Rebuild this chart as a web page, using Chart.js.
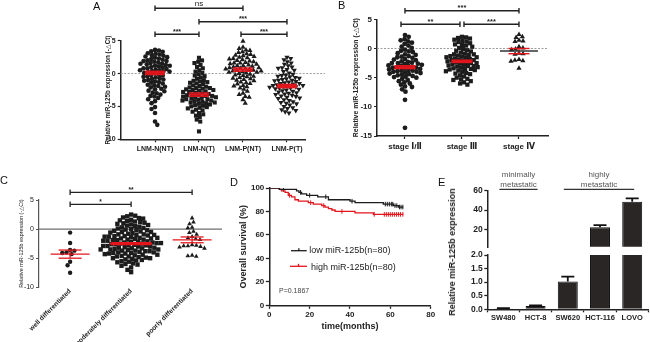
<!DOCTYPE html>
<html><head><meta charset="utf-8">
<script src="https://cdn.jsdelivr.net/npm/chart.js@4.4.1/dist/chart.umd.min.js"></script>
<style>
html,body{margin:0;padding:0;background:#fff;}
#wrap{position:relative;width:650px;height:342px;overflow:hidden;font-family:'Liberation Sans',Arial,sans-serif;color:#111;}
#wrap canvas{position:absolute;}
.pl{position:absolute;font-size:11px;line-height:11px;color:#111;}
.yt{position:absolute;transform:translate(-50%,-50%) rotate(-90deg);white-space:nowrap;font-weight:bold;font-size:9px;color:#222;}
</style></head><body>
<div id="wrap">
<canvas id="cA" width="240" height="165" style="left:88px;top:0px"></canvas>
<canvas id="cB" width="225" height="160" style="left:335px;top:0px"></canvas>
<canvas id="cC" width="232" height="172" style="left:0px;top:170px"></canvas>
<canvas id="cD" width="208" height="166" style="left:232px;top:176px"></canvas>
<canvas id="cEl" width="210" height="94" style="left:440px;top:248px"></canvas>
<canvas id="cEu" width="210" height="90" style="left:440px;top:168px"></canvas>
<div class="pl" style="left:93px;top:1px">A</div>
<div class="pl" style="left:338px;top:0px">B</div>
<div class="pl" style="left:0px;top:175px">C</div>
<div class="pl" style="left:230px;top:177px">D</div>
<div class="pl" style="left:438px;top:177px">E</div>
<div class="yt" style="left:452px;top:252px">Relative miR-125b expression</div>
</div>
<script>
// ---------------- DATA ----------------
// Panel A
const catsA = ['LNM-N(NT)', 'LNM-N(T)', 'LNM-P(NT)', 'LNM-P(T)'];
const lnmN_NT = [3.6,3.5,3.4,3.3,3.1,3.0,2.9,2.8,2.6,2.5,2.4,2.2,2.1,2.0,1.9,1.8,1.7,1.6,1.5,1.4,1.3,1.2,1.1,1.0,1.9,1.5,1.2,2.3,2.7,0.9,0.8,0.7,0.6,0.5,0.4,0.3,0.2,0.1,0.0,0.8,0.5,0.3,-0.1,-0.2,-0.3,-0.5,-0.6,-0.7,-0.8,-0.9,-1.0,-0.4,-1.1,-1.3,-1.4,-1.5,-1.7,-1.8,-1.9,-2.0,-1.2,-2.1,-2.3,-2.4,-2.6,-2.7,-2.9,-3.0,-3.2,-3.4,-3.5,-3.7,-3.9,-4.2,-4.5,-5.1,-5.4,-6.0,-7.3,-7.8];
const lnmN_T = [2.4,2.0,1.8,1.6,1.3,1.0,0.8,0.5,0.3,0.1,-0.1,-0.3,-0.4,-0.6,-0.8,-1.0,-1.1,-1.2,-1.3,-1.4,-1.5,-1.6,-1.8,-1.9,-2.0,-2.1,-2.2,-2.2,-2.3,-2.4,-2.5,-2.5,-2.6,-2.7,-2.8,-2.8,-2.9,-3.0,-3.1,-3.2,-3.3,-3.3,-3.4,-3.4,-3.5,-3.6,-3.6,-3.7,-3.8,-3.9,-3.9,-4.0,-4.1,-4.1,-4.2,-4.3,-4.4,-4.4,-4.5,-4.6,-4.7,-4.8,-4.9,-5.0,-5.1,-5.2,-5.3,-5.5,-5.6,-5.8,-6.0,-6.2,-6.4,-6.6,-7.0,-7.3,-8.8];
const lnmP_NT = [4.9,4.0,3.8,3.6,3.5,3.3,3.2,3.0,2.9,2.8,2.7,2.6,2.5,2.4,2.3,2.2,2.1,2.0,1.9,1.8,1.7,1.6,1.6,1.5,1.4,1.3,1.2,1.2,1.1,1.0,0.9,0.9,0.8,0.7,0.7,0.6,0.5,0.5,0.4,0.4,0.3,0.2,0.2,0.1,0.0,-0.1,-0.2,-0.3,-0.4,-0.5,-0.6,-0.7,-0.8,-0.9,-1.0,-1.1,-1.3,-1.4,-1.5,-1.6,-1.8,-1.9,-2.0,-2.2,-2.4,-2.7,-3.0,-3.2,-3.5,-3.6,-4.0,-4.5];
const lnmP_T = [2.5,2.3,2.1,1.8,1.6,1.4,1.2,1.0,0.9,0.8,0.6,0.5,0.3,0.1,-0.1,-0.2,-0.3,-0.4,-0.5,-0.6,-0.7,-0.8,-0.9,-1.0,-1.0,-1.1,-1.2,-1.3,-1.4,-1.5,-1.5,-1.6,-1.7,-1.8,-1.8,-1.9,-2.0,-2.0,-2.1,-2.2,-2.2,-2.3,-2.4,-2.5,-2.6,-2.7,-2.8,-2.9,-3.0,-3.1,-3.2,-3.3,-3.4,-3.5,-3.6,-3.7,-3.8,-4.0,-4.1,-4.3,-4.4,-4.5,-4.6,-4.8,-5.0,-5.2,-5.3,-5.5,-5.6,-5.8,-6.0];
const meansA = [0.1, -3.2, 0.6, -1.9];
const semsA = [0.25, 0.25, 0.25, 0.25];
const bracketsA = [[1, 3, 'ns'], [2, 4, '***'], [1, 2, '***'], [3, 4, '***']];

// Panel B
const catsB = ['stage \u2160/\u2161', 'stage \u2162', 'stage \u2163'];
const stageI_II = [2.3,2.0,1.6,1.4,1.2,1.0,0.8,0.5,0.3,0.1,-0.2,-0.4,-0.5,-0.6,-0.8,-1.0,-1.1,-1.3,-1.4,-1.5,-1.6,-1.8,-1.9,-2.0,-2.2,-2.3,-2.4,-2.5,-2.5,-2.6,-2.7,-2.8,-2.9,-3.0,-3.0,-3.1,-3.2,-3.3,-3.3,-3.4,-3.5,-3.6,-3.7,-3.8,-3.8,-3.9,-4.0,-4.0,-4.1,-4.2,-4.3,-4.4,-4.5,-4.6,-4.7,-4.8,-4.9,-5.0,-5.2,-5.4,-5.6,-5.8,-6.0,-6.2,-6.5,-6.6,-7.0,-7.4,-8.8,-13.6];
const stageIII = [2.0,1.9,1.8,1.7,1.5,1.3,1.2,1.1,0.9,0.7,0.6,0.5,0.3,0.1,-0.1,-0.3,-0.4,-0.5,-0.7,-0.9,-1.0,-1.0,-1.1,-1.2,-1.3,-1.4,-1.5,-1.5,-1.6,-1.7,-1.8,-1.9,-2.0,-2.0,-2.1,-2.2,-2.3,-2.4,-2.5,-2.5,-2.6,-2.7,-2.8,-2.9,-3.0,-3.0,-3.1,-3.2,-3.3,-3.4,-3.5,-3.5,-3.6,-3.7,-3.8,-3.9,-4.0,-4.2,-4.3,-4.4,-4.6,-4.8,-5.0,-5.2,-5.3,-5.4,-5.6,-5.8,-6.0,-6.2];
const stageIV = [2.4,2.0,1.9,1.4,1.3,1.2,0.3,0.1,-0.1,-0.2,-0.8,-0.9,-1.0,-1.9,-2.0,-2.1,-2.2,-3.4];
const meansB = [-3.2, -2.2, -0.45];
const semsB = [0.25, 0.2, 0.45];
const bracketsB = [[1, 3, '***'], [1, 2, '**'], [2, 3, '***']];

// Panel C
const catsC = ['well differentiated', 'moderately differentiated', 'poorly differentiated'];
const wellDiff = [-0.6,-2.4,-3.6,-3.7,-4.0,-4.3,-4.1,-5.6,-6.2,-7.5];
const modDiff = [2.5,2.3,2.2,2.0,1.9,1.8,1.6,1.5,1.3,1.2,1.0,0.9,0.8,0.6,0.5,0.3,0.2,0.1,-0.1,-0.2,-0.3,-0.5,-0.6,-0.7,-0.8,-0.9,-1.0,-1.1,-1.2,-1.3,-1.4,-1.5,-1.6,-1.7,-1.8,-1.9,-2.0,-2.1,-2.2,-2.3,-2.4,-2.5,-2.6,-2.7,-2.8,-2.9,-3.0,-3.1,-3.2,-3.3,-3.4,-3.5,-3.6,-3.7,-3.8,-3.9,-4.0,-4.1,-4.2,-4.3,-4.4,-4.5,-4.6,-4.7,-4.8,-4.9,-5.0,-5.1,-5.2,-5.4,-5.5,-5.7,-5.9,-6.1,-6.3,-6.6,-7.0,-7.4,1.4,0.7,0.0,-0.4,-0.9,-1.2,-1.6,-1.9,-2.2,-2.4,-2.6,-2.9,-3.2,-3.5,-3.8,-4.1,-4.4,-4.7,-5.0,-5.3,-1.0,-1.5,-2.0,-2.5,-3.0,-3.5,-4.0,-0.5,0.4,1.1,-2.3,-2.8,-3.3,-3.7,-4.2,-1.3,-1.8,-0.2,-5.6,-6.0];
const poorDiff = [1.9,1.2,0.9,0.3,0.2,-0.4,-0.6,-0.9,-1.3,-1.5,-1.7,-1.8,-2.7,-2.8,-2.9,-2.9,-3.0,-3.1,-3.3,-4.5,-4.6,-4.7];
const meansC = [-4.3, -2.5, -1.85];
const semsC = [0.7, 0.15, 0.5];
const bracketsC = [[1, 3, '**'], [1, 2, '*']];

// Panel D (Kaplan-Meier)
const lowTime = [0,5,13.5,14.7,16,18.5,24,29.3,40,42.5,56.5,61.5,64,66.4];
const lowSurv = [100,98.75,97.5,96.25,95,93.75,92.5,90,88.75,87.5,86.25,85,83.75,83.75];
const highTime = [0,5,6,7.8,9.4,11,12.7,14.4,19.3,21.8,26,27.6,29.3,31,32.6,42.5,51.6,66.4];
const highSurv = [100,98.75,97.5,96.25,93.75,92.5,90,88.75,87.5,86.25,85,83.75,82.5,81.25,80,78.75,77.5,77.5];
const lowCensor = [7,15.5,20,28,41,57.5,58.5,59.5,60.5,61.2,62.3,63.2,64.5,65.3,66.2];
const highCensor = [10,20.5,27,36,52,57,58,59,60,61,62,63,64,65,66.2];
const kmLabels = ['low miR-125b(n=80)', 'high miR-125b(n=80)'];
const pValueText = 'P=0.1867';

// Panel E
const cellLines = ['SW480', 'HCT-8', 'SW620', 'HCT-116', 'LOVO'];
const expr = [0.03, 0.12, 1.02, 22, 48.6];
const exprErr = [0.01, 0.02, 0.18, 2.3, 3.4];
const upperTicksE = [20, 40, 60];
const groupsE = [{from: 0, to: 1, text: ['minimally', 'metastatic']}, {from: 2, to: 4, text: ['highly', 'metastatic']}];

// ---------------- RENDERING ----------------
const FF = "'Liberation Sans', Arial, 'DejaVu Sans', 'Noto Sans CJK SC', sans-serif";
Chart.defaults.font.family = FF;
Chart.defaults.color = '#222';
Chart.defaults.animation = false;
Chart.defaults.plugins.legend.display = false;
Chart.defaults.plugins.tooltip.enabled = false;
const RED = '#e3151c';
const INK = '#1c1c1c';

function line(ctx, x1, y1, x2, y2) { ctx.beginPath(); ctx.moveTo(x1, y1); ctx.lineTo(x2, y2); ctx.stroke(); }

function applySwarm(chart, groups, d) {
  const xs = chart.scales.x, ys = chart.scales.y;
  groups.forEach((vals, gi) => {
    const cx = xs.getPixelForValue(gi + 1);
    const placed = [];
    const order = vals.map((v, i) => i).sort((a, b) => vals[b] - vals[a]);
    const out = new Array(vals.length);
    let flip = 1;
    order.forEach(i => {
      const py = ys.getPixelForValue(vals[i]);
      const cands = [0];
      placed.forEach(p => {
        const dy = Math.abs(p.y - py);
        if (dy < d) { const dx = Math.sqrt(d * d - dy * dy); cands.push(p.x + dx, p.x - dx); }
      });
      cands.sort((a, b) => (Math.abs(a) - Math.abs(b)) || (flip * (a - b)));
      flip = -flip;
      let best = 0;
      for (const c of cands) {
        if (placed.every(p => (p.x - c) ** 2 + (p.y - py) ** 2 >= d * d - 1e-6)) { best = c; break; }
      }
      placed.push({x: best, y: py});
      out[i] = {x: xs.getValueForPixel(cx + best), y: vals[i]};
    });
    chart.data.datasets[gi].data = out;
  });
  chart.update('none');
}

function dotPanel(id, P) {
  const cv = document.getElementById(id);
  const W = cv.width, H = cv.height;
  const datasets = P.groups.map((vals, gi) => ({
    data: vals.map(v => ({x: gi + 1, y: v})),
    pointStyle: P.markers[gi].style,
    rotation: P.markers[gi].rot || 0,
    pointRadius: P.markers[gi].r,
    pointBackgroundColor: INK,
    pointBorderColor: INK,
    pointBorderWidth: 0,
    clip: false
  }));
  const deco = {
    id: 'deco',
    beforeDatasetsDraw(chart) {
      const {ctx, chartArea: ca, scales: {y}} = chart;
      const y0 = y.getPixelForValue(0);
      ctx.save();
      ctx.strokeStyle = P.zero.color; ctx.lineWidth = P.zero.width; ctx.setLineDash(P.zero.dash);
      line(ctx, ca.left, y0, ca.right + P.zero.extend, y0);
      ctx.restore();
    },
    afterDatasetsDraw(chart) {
      const {ctx, scales: {x, y}} = chart;
      ctx.save();
      P.means.forEach((m, i) => {
        const st = P.meanStyle[i];
        const cx = x.getPixelForValue(i + 1);
        const ym = y.getPixelForValue(m), yh = y.getPixelForValue(m + P.sems[i]), yl = y.getPixelForValue(m - P.sems[i]);
        ctx.strokeStyle = RED; ctx.lineWidth = st.sw;
        line(ctx, cx - st.sh, yh, cx + st.sh, yh);
        line(ctx, cx - st.sh, yl, cx + st.sh, yl);
        if (st.vert) line(ctx, cx, yh, cx, yl);
        ctx.strokeStyle = st.mc || RED; ctx.lineWidth = st.mw;
        line(ctx, cx - st.mh, ym, cx + st.mh, ym);
      });
      P.brackets.forEach((b, k) => {
        const adj = P.bracketAdj ? P.bracketAdj[k] : [0, 0];
        const xa = x.getPixelForValue(b[0]) + adj[0], xb = x.getPixelForValue(b[1]) + adj[1];
        const by = P.bracketY[k];
        ctx.strokeStyle = '#222'; ctx.lineWidth = P.bw;
        line(ctx, xa, by, xb, by);
        line(ctx, xa, by - P.cap, xa, by + P.cap);
        line(ctx, xb, by - P.cap, xb, by + P.cap);
        ctx.fillStyle = '#222';
        ctx.textAlign = 'center'; ctx.textBaseline = 'alphabetic';
        ctx.font = (b[2] === 'ns' ? P.nsFont : P.starFont);
        ctx.fillText(b[2], (xa + xb) / 2, by - (b[2] === 'ns' ? 2.5 : 0.5));
      });
      ctx.restore();
    }
  };
  const chart = new Chart(cv, {
    type: 'scatter',
    data: {datasets},
    options: {
      responsive: false, animation: false,
      layout: {padding: {top: P.area.top, right: W - P.area.right, left: 0, bottom: 0}},
      scales: {
        x: {
          type: 'linear', min: P.xMin, max: P.xMax,
          afterBuildTicks: s => { s.ticks = P.cats.map((c, i) => ({value: i + 1})); },
          afterFit: s => { s.height = H - P.area.bottom; },
          ticks: {autoSkip: false, callback: v => P.cats[Math.round(v) - 1], font: P.xFont, color: '#222',
                  padding: P.xPad, minRotation: P.xRot, maxRotation: P.xRot},
          grid: {display: P.xTicks, drawOnChartArea: false, drawTicks: P.xTicks, tickLength: 3, tickColor: '#222', tickWidth: 1.2},
          border: {display: P.xBorder, color: '#222', width: 1.5}
        },
        y: {
          type: 'linear', min: P.yMin, max: P.yMax,
          ticks: {stepSize: 5, font: P.yFont, color: '#222', padding: 2},
          afterFit: s => { s.width = P.area.left; },
          grid: {display: true, drawOnChartArea: false, drawTicks: true, tickLength: 3, tickColor: P.axisColor, tickWidth: 1.2},
          border: {display: true, color: P.axisColor, width: P.axisWidth},
          title: {display: true, text: P.yTitle, font: P.yTitleFont, color: '#222', padding: {top: P.yTitlePad, bottom: 0}}
        }
      }
    },
    plugins: [deco]
  });
  applySwarm(chart, P.groups, P.d);
  return chart;
}

const mkA = {sh: 10, mh: 10, sw: 1.4, mw: 2, vert: false};
// Panel A
dotPanel('cA', {
  groups: [lnmN_NT, lnmN_T, lnmP_NT, lnmP_T], cats: catsA,
  markers: [{style: 'circle', r: 2.3}, {style: 'rect', r: 2.9}, {style: 'triangle', r: 3.0}, {style: 'triangle', r: 3.0, rot: 180}],
  area: {left: 32.7, right: 217, top: 40.7, bottom: 139.3},
  xMin: 0.22, xMax: 4.41, yMin: -10, yMax: 5,
  xFont: {size: 7, weight: 'bold'}, xPad: 2.5, xRot: 0, xTicks: true, xBorder: true,
  yFont: {size: 7, weight: 'bold'}, axisColor: '#222', axisWidth: 1.5,
  yTitle: 'Relative miR-125b expression (-\u25B3Ct)', yTitleFont: {size: 6.3, weight: 'bold'}, yTitlePad: 16.2,
  zero: {color: '#9a9a9a', width: 1, dash: [2, 1.5], extend: 20},
  means: meansA, sems: semsA, meanStyle: [mkA, mkA, mkA, mkA],
  brackets: bracketsA, bracketY: [8.3, 21.7, 34.3, 34.3], bracketAdj: [[0, 0], [0, 0], [0, 0], [-2, 0]],
  bw: 1.4, cap: 2.8, nsFont: "8px " + FF, starFont: "bold 7px " + FF,
  d: 4.0
});

// Panel B
const mkB = {sh: 10.5, mh: 10.5, sw: 1.4, mw: 2, vert: false};
dotPanel('cB', {
  groups: [stageI_II, stageIII, stageIV], cats: catsB,
  markers: [{style: 'circle', r: 2.4}, {style: 'rect', r: 3.0}, {style: 'triangle', r: 3.0}],
  area: {left: 42, right: 213, top: 19.3, bottom: 136},
  xMin: 0.509, xMax: 3.509, yMin: -15, yMax: 5,
  xFont: {size: 8, weight: 'bold'}, xPad: 2.5, xRot: 0, xTicks: true, xBorder: true,
  yFont: {size: 8, weight: 'bold'}, axisColor: '#222', axisWidth: 1.5,
  yTitle: 'Relative miR-125b expression (-\u25B3Ct)', yTitleFont: {size: 6.9, weight: 'bold'}, yTitlePad: 16.8,
  zero: {color: '#9a9a9a', width: 1, dash: [2, 1.5], extend: 0},
  means: meansB, sems: semsB, meanStyle: [mkB, mkB, {sh: 10.5, mh: 19, sw: 1.4, mw: 1.5, vert: true, mc: '#333'}],
  brackets: bracketsB, bracketY: [10.7, 24.3, 24.3], bracketAdj: [[0, 0], [-4, -2], [2, 0]],
  bw: 1.4, cap: 2.8, nsFont: "8px " + FF, starFont: "bold 7.5px " + FF,
  d: 4.1
});

// Panel C
const mkC = {sh: 11.5, mh: 19.5, sw: 1.3, mw: 1.3, vert: true};
dotPanel('cC', {
  groups: [wellDiff, modDiff, poorDiff], cats: catsC,
  markers: [{style: 'circle', r: 2.2}, {style: 'rect', r: 3.1}, {style: 'triangle', r: 2.7}],
  area: {left: 39, right: 222, top: 30, bottom: 117.3},
  xMin: 0.49, xMax: 3.49, yMin: -10, yMax: 5,
  xFont: {size: 6.6, weight: 'bold'}, xPad: 0, xRot: 45, xTicks: false, xBorder: false,
  yFont: {size: 7}, axisColor: '#555', axisWidth: 1.2,
  yTitle: 'Relative miR-125b expression (-\u25B3Ct)', yTitleFont: {size: 5.4}, yTitlePad: 17.8,
  zero: {color: '#6e6e6e', width: 1.2, dash: [], extend: 0},
  means: meansC, sems: semsC, meanStyle: [mkC, {sh: 20, mh: 21, sw: 1.4, mw: 1.6, vert: false}, mkC],
  brackets: bracketsC, bracketY: [22.3, 34.3],
  bw: 1.3, cap: 2.8, nsFont: "7px " + FF, starFont: "bold 6.5px " + FF,
  d: 4.3
});

// Panel D
function survAt(t, T, S) { let s = S[0]; for (let i = 0; i < T.length; i++) if (T[i] <= t) s = S[i]; return s; }
(function () {
  const cv = document.getElementById('cD');
  const W = cv.width, H = cv.height;
  const area = {left: 37.3, right: 198.7, top: 12, bottom: 129.3};
  const kmLegend = {
    id: 'kmLegend',
    afterDraw(chart) {
      const ctx = chart.ctx, ca = chart.chartArea;
      ctx.save();
      const items = [{c: INK, y: ca.top + 62.7, x1: ca.left + 21.7, x2: ca.left + 37.4, tx: ca.left + 40}, {c: RED, y: ca.top + 78.3, x1: ca.left + 20.7, x2: ca.left + 37.7, tx: ca.left + 41.7}];
      items.forEach((it, i) => {
        ctx.strokeStyle = it.c; ctx.lineWidth = 1.3;
        line(ctx, it.x1, it.y, it.x2, it.y);
        line(ctx, (it.x1 + it.x2) / 2, it.y - 2.5, (it.x1 + it.x2) / 2, it.y);
        ctx.fillStyle = '#222'; ctx.font = '9px ' + FF; ctx.textAlign = 'left'; ctx.textBaseline = 'middle';
        ctx.fillText(kmLabels[i], it.tx, it.y + (i ? 1 : 0));
      });
      ctx.fillStyle = '#444'; ctx.font = '7px ' + FF;
      ctx.fillText(pValueText, ca.left + 9.7, ca.top + 102.7);
      ctx.restore();
    }
  };
  new Chart(cv, {
    type: 'line',
    data: {datasets: [
      {data: lowTime.map((t, i) => ({x: t, y: lowSurv[i]})), borderColor: INK, borderWidth: 1.3, stepped: true, pointRadius: 0, fill: false},
      {data: highTime.map((t, i) => ({x: t, y: highSurv[i]})), borderColor: RED, borderWidth: 1.3, stepped: true, pointRadius: 0, fill: false},
      {type: 'scatter', data: lowCensor.map(t => ({x: t, y: survAt(t, lowTime, lowSurv)})), pointStyle: 'line', rotation: 90, pointRadius: 2.3, borderColor: INK, borderWidth: 1, showLine: false},
      {type: 'scatter', data: highCensor.map(t => ({x: t, y: survAt(t, highTime, highSurv)})), pointStyle: 'line', rotation: 90, pointRadius: 2.3, borderColor: RED, borderWidth: 1, showLine: false}
    ]},
    options: {
      responsive: false, animation: false,
      layout: {padding: {top: area.top, right: W - area.right, left: 0, bottom: 0}},
      scales: {
        x: {type: 'linear', min: 0, max: 80,
            ticks: {stepSize: 20, font: {size: 8, weight: 'bold'}, color: '#222', padding: 1},
            afterFit: s => { s.height = H - area.bottom; },
            grid: {display: true, drawOnChartArea: false, tickLength: 3.5, tickColor: '#222', tickWidth: 1.3},
            border: {display: true, color: '#222', width: 1.5},
            title: {display: true, text: 'time(months)', font: {size: 9, weight: 'bold'}, color: '#222', padding: {top: 0, bottom: 10.3}}},
        y: {type: 'linear', min: 0, max: 100,
            ticks: {stepSize: 20, font: {size: 8, weight: 'bold'}, color: '#222', padding: 1.5},
            afterFit: s => { s.width = area.left; },
            grid: {display: true, drawOnChartArea: false, tickLength: 3.5, tickColor: '#222', tickWidth: 1.3},
            border: {display: true, color: '#222', width: 1.5},
            title: {display: true, text: 'Overall survival (%)', font: {size: 9, weight: 'bold'}, color: '#222', padding: {top: 5.9, bottom: 0}}}
      }
    },
    plugins: [kmLegend]
  });
})();

// Panel E (broken axis: upper and lower segments)
const errPlugin = {
  id: 'errBars',
  afterDatasetsDraw(chart) {
    const {ctx, chartArea: ca, scales: {y}} = chart;
    const meta = chart.getDatasetMeta(0);
    ctx.save();
    ctx.beginPath(); ctx.rect(ca.left, ca.top - 1, ca.right - ca.left, ca.bottom - ca.top + 1); ctx.clip();
    ctx.strokeStyle = '#111'; ctx.lineWidth = 1.8;
    meta.data.forEach((bar, i) => {
      const yv = y.getPixelForValue(expr[i]), ye = y.getPixelForValue(expr[i] + exprErr[i]);
      if (ye > ca.bottom - 0.5) return;
      line(ctx, bar.x, yv, bar.x, ye);
      line(ctx, bar.x - 6.5, ye, bar.x + 6.5, ye);
    });
    ctx.restore();
  }
};
const groupPlugin = {
  id: 'groupsE',
  afterDraw(chart) {
    const {ctx, scales: {x}} = chart;
    ctx.save();
    groupsE.forEach(g => {
      const xa = x.getPixelForValue(g.from) - 4, xb = x.getPixelForValue(g.to) + 2;
      const xm = (xa + xb) / 2;
      ctx.strokeStyle = '#333'; ctx.lineWidth = 1.3;
      line(ctx, xa, 21.3, xb, 21.3);
      ctx.fillStyle = '#555'; ctx.font = '8px ' + FF; ctx.textAlign = 'center'; ctx.textBaseline = 'middle';
      ctx.fillText(g.text[0], xm, 6.5);
      ctx.fillText(g.text[1], xm, 16.3);
    });
    ctx.restore();
  }
};
function barDataset(clipBottom) {
  return {data: expr, backgroundColor: '#2b2626', borderColor: '#111', borderWidth: 1, barPercentage: 0.62, categoryPercentage: 1,
          clip: {left: 0, right: 0, top: 0, bottom: clipBottom}};
}
(function () {
  const cv = document.getElementById('cEu');
  const W = cv.width, H = cv.height;
  new Chart(cv, {
    type: 'bar',
    data: {labels: cellLines, datasets: [barDataset(-0.5)]},
    options: {
      responsive: false, animation: false,
      layout: {padding: {top: 22.7, right: W - 208.3, left: 0, bottom: H - 79.3}},
      scales: {
        x: {display: false},
        y: {min: 1.35, max: 60,
            afterBuildTicks: s => { s.ticks = upperTicksE.map(v => ({value: v})); },
            afterFit: s => { s.width = 47.3; },
            ticks: {font: {size: 8.5, weight: 'bold'}, color: '#222', padding: 1.5},
            grid: {display: true, drawOnChartArea: false, tickLength: 3, tickColor: '#222', tickWidth: 1.3},
            border: {display: true, color: '#222', width: 1.5}}
      }
    },
    plugins: [errPlugin, groupPlugin]
  });
})();
(function () {
  const cv = document.getElementById('cEl');
  const W = cv.width, H = cv.height;
  new Chart(cv, {
    type: 'bar',
    data: {labels: cellLines, datasets: [barDataset(0)]},
    options: {
      responsive: false, animation: false,
      layout: {padding: {top: 7, right: W - 208.3, left: 0, bottom: 0}},
      scales: {
        x: {afterFit: s => { s.height = H - 61.3; },
            ticks: {font: {size: 7.5, weight: 'bold'}, color: '#222', padding: 1.5, autoSkip: false, maxRotation: 0},
            grid: {display: true, drawOnChartArea: false, tickLength: 3, tickColor: '#222', tickWidth: 1.3, offset: true},
            border: {display: true, color: '#222', width: 1.5}},
        y: {min: 0, max: 2,
            afterFit: s => { s.width = 47.3; },
            ticks: {stepSize: 0.5, callback: v => v.toFixed(1), font: {size: 8.5, weight: 'bold'}, color: '#222', padding: 1.5},
            grid: {display: true, drawOnChartArea: false, tickLength: 3, tickColor: '#222', tickWidth: 1.3},
            border: {display: true, color: '#222', width: 1.5}}
      }
    },
    plugins: [errPlugin]
  });
})();
</script>
</body></html>
